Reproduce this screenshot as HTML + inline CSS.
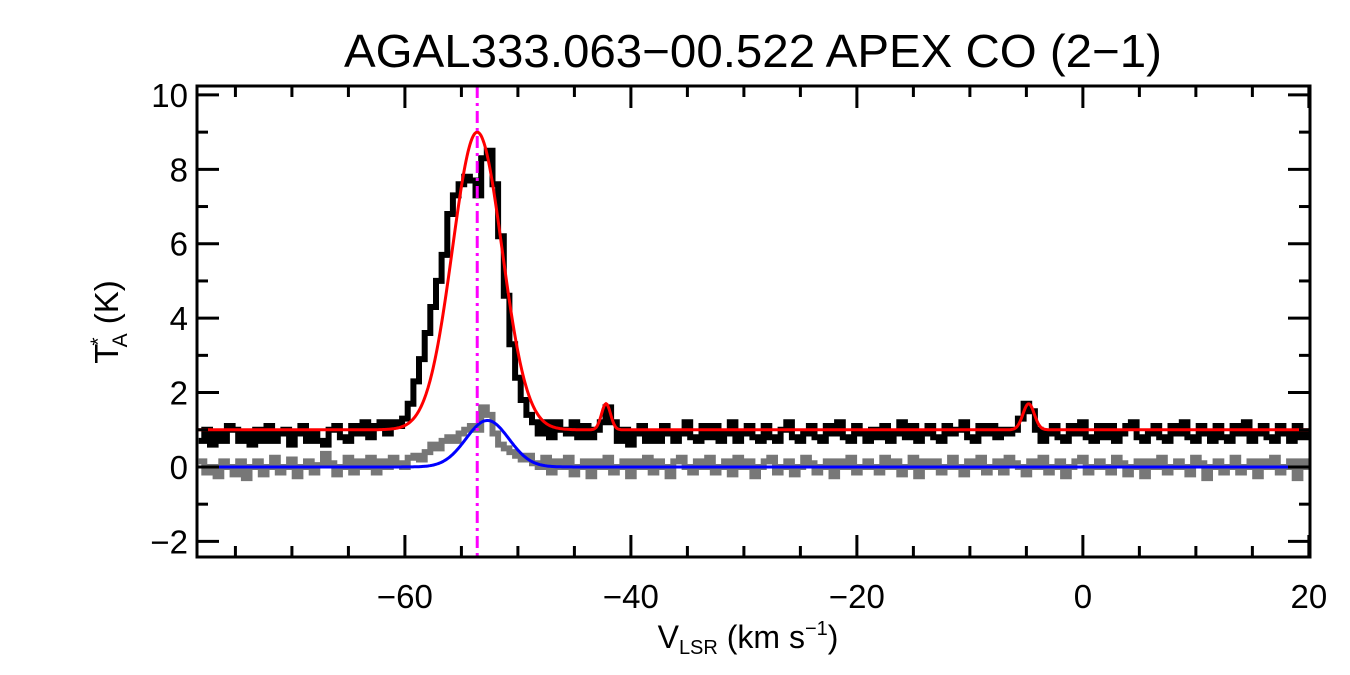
<!DOCTYPE html>
<html><head><meta charset="utf-8"><style>
html,body{margin:0;padding:0;background:#fff;}
svg{display:block;font-family:"Liberation Sans",Arial,sans-serif;}
</style></head><body>
<svg id="chart" width="1350" height="675" viewBox="0 0 1350 675">
<text x="753" y="67" font-size="46" text-anchor="middle" textLength="818" lengthAdjust="spacingAndGlyphs">AGAL333.063−00.522  APEX CO (2−1)</text>
<text x="748" y="648" font-size="32" text-anchor="middle">V<tspan font-size="20" dy="6">LSR</tspan><tspan dy="-6"> (km s</tspan><tspan font-size="20" dy="-13">−1</tspan><tspan dy="13">)</tspan></text>
<text transform="translate(118,322) rotate(-90)" font-size="33" text-anchor="middle">T<tspan font-size="21" dx="-2" dy="-13">*</tspan><tspan font-size="21" dx="-10" dy="22">A</tspan><tspan dy="-9"> (K)</tspan></text>
<g id="plot"></g>
</svg>
<script>
const xStart = -78;
const xStep = 0.5;
const blackSpec = [
0.7,1.0,0.6,0.9,0.7,1.1,1.0,0.7,0.9,0.6,
1.0,0.7,1.1,0.7,0.9,1.0,0.6,0.9,1.1,0.7,
0.9,0.7,0.6,1.0,1.1,0.8,0.7,1.1,0.9,1.2,
0.8,1.1,1.2,0.9,1.2,1.1,1.3,1.7,2.3,2.9,
3.6,4.3,5.0,5.7,6.8,7.3,7.6,7.8,7.7,7.3,
8.3,8.5,7.6,6.2,4.6,3.3,2.4,1.8,1.4,1.2,
0.9,1.2,0.8,1.2,1.0,0.9,1.2,0.8,1.1,0.8,
1.0,1.2,1.6,1.2,0.7,1.0,0.6,0.9,1.1,0.7,
0.9,0.7,1.1,0.9,0.7,0.9,1.2,0.8,0.7,1.1,
0.8,1.1,0.7,0.9,1.2,0.7,0.9,1.1,0.8,0.7,
1.1,0.8,0.7,1.0,1.2,0.8,0.7,0.9,1.1,0.8,
0.7,1.1,0.9,1.2,0.8,0.7,1.1,0.9,0.7,1.0,
0.8,1.1,0.7,0.9,1.2,0.8,1.1,0.7,0.9,1.1,
0.8,0.7,1.1,0.9,1.0,1.2,0.8,0.7,1.1,0.9,
1.1,0.8,1.0,0.9,1.0,1.3,1.7,1.5,1.0,0.7,
0.9,1.1,0.8,0.7,1.1,0.9,1.2,0.8,0.7,1.1,
0.8,1.1,0.7,0.9,1.1,1.2,0.8,0.7,0.9,1.1,
0.8,0.7,1.1,0.9,1.2,0.8,0.7,1.1,0.9,0.7,
1.1,0.8,0.7,1.1,0.9,1.2,0.7,0.9,1.1,0.8,
0.7,1.1,0.9,0.7,1.1,0.8,0.9];
const graySpec = [
0.15,-0.15,0.0,-0.25,0.15,0.0,-0.2,0.15,-0.3,0.0,
0.15,-0.2,0.0,0.25,-0.15,0.0,0.2,-0.25,0.0,0.15,
-0.15,0.05,0.35,0.1,-0.2,0.0,0.25,-0.15,0.15,0.0,
0.25,-0.15,0.15,0.0,0.25,0.1,0.0,0.25,0.3,0.2,
0.4,0.6,0.5,0.7,0.8,0.7,0.9,1.0,1.1,1.0,
1.6,1.4,0.9,0.6,0.5,0.4,0.3,0.2,0.3,0.1,
0.0,0.25,-0.15,0.15,0.0,0.25,-0.2,0.0,0.15,-0.25,
0.15,0.0,0.25,-0.15,0.0,0.15,-0.25,0.15,0.0,0.25,
-0.15,0.15,0.0,-0.25,0.15,0.25,0.0,-0.15,0.15,0.0,
0.25,-0.15,0.0,0.15,-0.2,0.25,0.0,0.15,-0.25,0.0,
0.15,0.25,-0.15,0.0,0.15,-0.2,0.0,0.25,0.1,-0.15,
0.0,0.15,-0.25,0.15,0.0,0.25,-0.15,0.0,0.15,0.0,
-0.15,0.25,0.0,0.15,-0.2,0.0,0.25,-0.25,0.15,0.0,
0.15,-0.15,0.0,0.25,0.0,-0.2,0.15,0.0,0.25,-0.15,
0.0,0.15,-0.15,0.25,0.1,0.0,-0.2,0.15,0.0,0.25,
-0.15,0.0,0.15,-0.25,0.0,0.15,0.25,-0.15,0.0,0.15,
0.0,-0.15,0.25,0.1,-0.2,0.0,0.15,-0.25,0.15,0.0,
0.25,-0.15,0.0,0.15,0.0,-0.2,0.25,0.1,-0.3,0.0,
0.15,-0.15,0.0,0.25,-0.15,0.0,0.15,-0.25,0.15,0.0,
0.25,-0.15,0.0,0.15,-0.3,0.15,0.0];
const redBase = 1.0;
const redCenters = [-53.6, -42.2, -4.8];
const redAmps = [8.0, 0.7, 0.7];
const redSigmas = [2.2, 0.4, 0.5];
const blueCenters = [-52.7];
const blueAmps = [1.25];
const blueSigmas = [1.9];
const vCentral = -53.6;
const xTicks = [-60, -40, -20, 0, 20];
const yTicks = [-2, 0, 2, 4, 6, 8, 10];

const X0=197, X1=1310, Y0=86, Y1=557;
const xmin=-78.4, xmax=20.1, ymin=-2.42, ymax=10.24;
const sx=v=>X0+(v-xmin)/(xmax-xmin)*(X1-X0);
const sy=v=>Y1-(v-ymin)/(ymax-ymin)*(Y1-Y0);
const NS='http://www.w3.org/2000/svg';
const plot=document.getElementById('plot');
function mk(t,a){const e=document.createElementNS(NS,t);for(const k in a)e.setAttribute(k,a[k]);plot.appendChild(e);return e;}
const cl=v=>Math.max(X0,Math.min(X1,v));
function stepPath(arr){let d='';arr.forEach((v,i)=>{const c=xStart+i*xStep;const a=cl(sx(c-xStep/2)),b=cl(sx(c+xStep/2));const y=sy(v);d+=(i?'L':'M')+a.toFixed(1)+','+y.toFixed(1)+'L'+b.toFixed(1)+','+y.toFixed(1);});return d;}
function gaussPath(base,cs,as,ss){let d='';for(let px=X0;px<=X1;px+=1){const v=xmin+(px-X0)/(X1-X0)*(xmax-xmin);let y=base;cs.forEach((c,k)=>{y+=as[k]*Math.exp(-0.5*((v-c)/ss[k])**2);});d+=(px===X0?'M':'L')+px+','+sy(y).toFixed(1);}return d;}

let e;
e=mk('path',{d:stepPath(graySpec),fill:'none',stroke:'#777',"stroke-width":6});


e=mk('path',{d:stepPath(blackSpec),fill:'none',stroke:'#000',"stroke-width":6});


e=mk('path',{d:gaussPath(redBase,redCenters,redAmps,redSigmas),fill:'none',stroke:'#f00',"stroke-width":3});


e=mk('path',{d:gaussPath(0,blueCenters,blueAmps,blueSigmas),fill:'none',stroke:'#00f',"stroke-width":3});


e=mk('line',{x1:sx(vCentral),x2:sx(vCentral),y1:Y0,y2:Y1,stroke:'#f0f',"stroke-width":3,"stroke-dasharray":'12,5,3,5'});



for(let v=-75;v<=20;v+=5){const x=sx(v);const L=(v%20===0)?22:11;
 e=mk('line',{x1:x,x2:x,y1:Y1,y2:Y1-L,stroke:'#000',"stroke-width":3});
 
 
 e=mk('line',{x1:x,x2:x,y1:Y0,y2:Y0+L,stroke:'#000',"stroke-width":3});
 
 }
for(let v=-2;v<=10;v+=1){const y=sy(v);const L=(v%2===0)?22:11;
 e=mk('line',{x1:X0,x2:X0+L,y1:y,y2:y,stroke:'#000',"stroke-width":3});
 
 
 e=mk('line',{x1:X1,x2:X1-L,y1:y,y2:y,stroke:'#000',"stroke-width":3});
 
 }
xTicks.forEach(v=>{e=mk('text',{x:sx(v),y:608,"font-size":33,"text-anchor":'middle'});e.textContent=(v<0?'−':'')+Math.abs(v);
 
 });
yTicks.forEach(v=>{e=mk('text',{x:188,y:sy(v)+12,"font-size":33,"text-anchor":'end'});e.textContent=(v<0?'−':'')+Math.abs(v);
 
 });
e=mk('rect',{x:X0,y:Y0,width:X1-X0,height:Y1-Y0,fill:'none',stroke:'#000',"stroke-width":3});


</script>
</body></html>
